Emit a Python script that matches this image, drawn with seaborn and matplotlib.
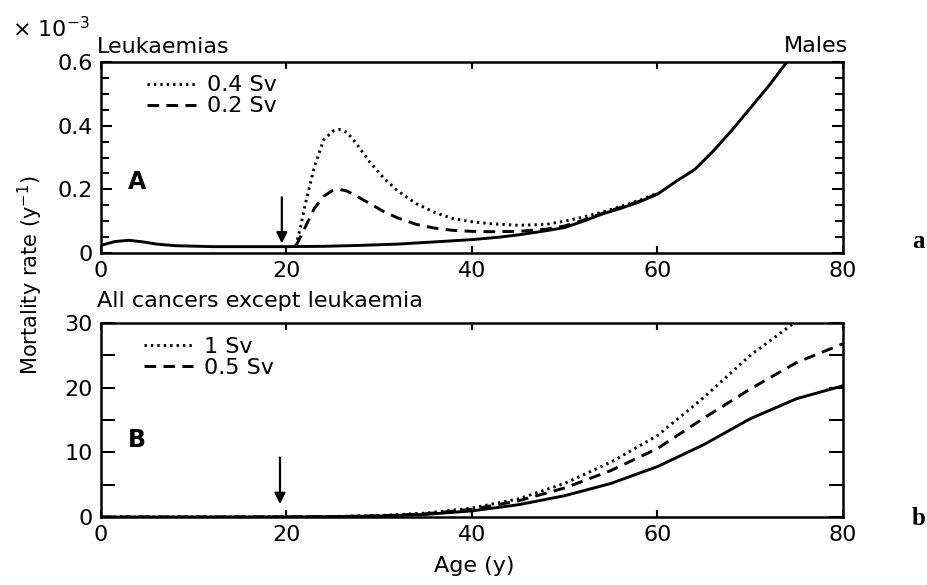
import matplotlib
matplotlib.use("Agg")
import matplotlib.pyplot as plt
import seaborn as sns
from matplotlib.ticker import MultipleLocator, FixedLocator

# ---------------- data ----------------
# Panel A: leukaemia mortality rate (x 10^-3 per year), males
leuk_age = [0, 1.5, 3, 4.5, 6, 8, 12, 16, 20, 24, 28, 32, 36, 40, 43, 45, 48,
            50, 52, 54, 56, 58, 60, 62, 64, 66, 68, 70, 72, 74, 75]
leuk_base = [0.024, 0.036, 0.040, 0.035, 0.028, 0.023, 0.020, 0.020, 0.020,
             0.021, 0.024, 0.028, 0.035, 0.042, 0.050, 0.057, 0.070, 0.080,
             0.100, 0.122, 0.140, 0.160, 0.185, 0.225, 0.262, 0.320, 0.385,
             0.455, 0.525, 0.602, 0.640]

dose_age = [21, 21.5, 22, 23, 24, 25, 25.7, 26.5, 27.5, 29, 30.5, 32, 34, 36,
            38, 40, 42, 45, 48, 50, 52, 54, 56, 58, 60]
leuk_04sv = [0.022, 0.08, 0.15, 0.27, 0.355, 0.383, 0.388, 0.38, 0.345, 0.285,
             0.235, 0.195, 0.155, 0.127, 0.108, 0.098, 0.092, 0.087, 0.090,
             0.100, 0.113, 0.128, 0.146, 0.165, 0.188]
leuk_02sv = [0.022, 0.05, 0.08, 0.14, 0.178, 0.197, 0.200, 0.195, 0.180, 0.155,
             0.130, 0.110, 0.090, 0.078, 0.071, 0.068, 0.067, 0.068, 0.075,
             0.085, 0.103, 0.124, 0.143, 0.162, 0.186]

# Panel B: all cancers except leukaemia (x 10^-3 per year)
all_age = [0, 10, 20, 25, 30, 35, 40, 45, 50, 55, 60, 65, 70, 75, 80]
all_base = [0.0, 0.0, 0.02, 0.06, 0.15, 0.4, 0.95, 1.9, 3.3, 5.2, 7.8, 11.2,
            15.2, 18.3, 20.3]
all_05sv = [0.0, 0.0, 0.02, 0.07, 0.18, 0.5, 1.2, 2.5, 4.5, 7.2, 10.6, 15.3,
            19.8, 23.9, 26.8]
all_1sv_age = [0, 10, 20, 25, 30, 35, 40, 45, 50, 55, 60, 65, 70, 75]
all_1sv = [0.0, 0.0, 0.02, 0.08, 0.22, 0.6, 1.4, 2.8, 5.2, 8.5, 12.6, 18.5,
           25.0, 30.3]

top_labels = ["0.4 Sv", "0.2 Sv"]
bot_labels = ["1 Sv", "0.5 Sv"]
x_ticks = [0, 20, 40, 60, 80]

# ---------------- style ----------------
sns.set_style("ticks")
plt.rcParams['font.family'] = ['DejaVu Sans']
plt.rcParams['mathtext.fontset'] = 'dejavusans'
for k in ('text.color', 'axes.labelcolor', 'xtick.color', 'ytick.color',
          'axes.edgecolor'):
    plt.rcParams[k] = 'black'
FS = 16

DOT = (0, (0.8, 1.4))
DASH = (0, (4, 2.5))
LW = 2.1

fig = plt.figure(figsize=(9.28, 5.85), dpi=100)
ax1 = fig.add_axes([0.1088, 0.5675, 0.7996, 0.3265])
ax2 = fig.add_axes([0.1088, 0.1162, 0.7996, 0.3316])

# ---- panel A ----
sns.lineplot(x=leuk_age, y=leuk_base, ax=ax1, color='black', lw=LW,
             label='_nolegend_')
sns.lineplot(x=dose_age, y=leuk_04sv, ax=ax1, color='black', lw=LW,
             linestyle=DOT, label=top_labels[0])
sns.lineplot(x=dose_age, y=leuk_02sv, ax=ax1, color='black', lw=LW,
             linestyle=DASH, label=top_labels[1])

# ---- panel B ----
sns.lineplot(x=all_age, y=all_base, ax=ax2, color='black', lw=LW,
             label='_nolegend_')
sns.lineplot(x=all_1sv_age, y=all_1sv, ax=ax2, color='black', lw=LW,
             linestyle=DOT, label=bot_labels[0])
sns.lineplot(x=all_age, y=all_05sv, ax=ax2, color='black', lw=LW,
             linestyle=DASH, label=bot_labels[1])

for ax in (ax1, ax2):
    ax.set_xlim(0, 80)
    ax.set_xticks(x_ticks)
    ax.set_xticklabels([str(t) for t in x_ticks])
    ax.set_xlabel('')
    ax.set_ylabel('')
    for s in ax.spines.values():
        s.set_visible(True)
        s.set_linewidth(1.8)
        s.set_color('black')
    ax.tick_params(axis='x', which='major', direction='in', top=True,
                   bottom=True, length=5, width=1.5, labelsize=FS, pad=6,
                   colors='black')
    ax.tick_params(axis='y', which='both', direction='in', left=True,
                   right=True, width=1.5, labelsize=FS, pad=6, colors='black')
    h, l = ax.get_legend_handles_labels()
    keep = [(hh, ll) for hh, ll in zip(h, l) if not ll.startswith('_')]
    ax.legend([k[0] for k in keep], [k[1] for k in keep], loc='upper left',
              frameon=False, fontsize=FS, handlelength=2.2,
              handletextpad=0.5, labelspacing=0.05, borderpad=0,
              borderaxespad=0,
              bbox_to_anchor=(0.062, 0.93) if ax is ax1 else (0.058, 0.93))

ax1.set_ylim(0, 0.6)
ax1.yaxis.set_major_locator(FixedLocator([0, 0.2, 0.4, 0.6]))
ax1.set_yticklabels(['0', '0.2', '0.4', '0.6'])
ax1.yaxis.set_minor_locator(MultipleLocator(0.05))
ax1.tick_params(axis='y', which='major', length=8)
ax1.tick_params(axis='y', which='minor', length=6)

ax2.set_ylim(0, 30)
ax2.yaxis.set_major_locator(FixedLocator([0, 10, 20, 30]))
ax2.set_yticklabels(['0', '10', '20', '30'])
ax2.yaxis.set_minor_locator(MultipleLocator(5))
ax2.tick_params(axis='y', which='both', length=10)

# arrows marking exposure at age 20
ax1.annotate('', xy=(19.5, 0.03), xytext=(19.5, 0.175),
             arrowprops=dict(arrowstyle='-|>', color='black', lw=1.6,
                             mutation_scale=16, shrinkA=0, shrinkB=0))
ax2.annotate('', xy=(19.3, 2.0), xytext=(19.3, 9.2),
             arrowprops=dict(arrowstyle='-|>', color='black', lw=1.6,
                             mutation_scale=16, shrinkA=0, shrinkB=0))

# panel letters
ax1.text(3.9, 0.223, 'A', fontsize=FS + 1, fontweight='bold', ha='center',
         va='center')
ax2.text(3.9, 11.9, 'B', fontsize=FS + 1, fontweight='bold', ha='center',
         va='center')

# figure texts
W, H = 928.0, 585.0
fig.text(12 / W, 1 - 37 / H, '× 10$^{-3}$', fontsize=FS, va='baseline')
fig.text(97 / W, 1 - 53 / H, 'Leukaemias', fontsize=FS, va='baseline')
fig.text(848 / W, 1 - 52 / H, 'Males', fontsize=FS, va='baseline', ha='right')
fig.text(97 / W, 1 - 307 / H, 'All cancers except leukaemia', fontsize=FS,
         va='baseline')
fig.text(474 / W, 1 - 566 / H, 'Age (y)', fontsize=FS, ha='center',
         va='center')
fig.text(30 / W, 1 - 275 / H, 'Mortality rate (y$^{-1}$)', fontsize=15,
         ha='center', va='center', rotation=90)
fig.text(912 / W, 1 - 248 / H, 'a', fontsize=18, fontweight='bold',
         family=['Liberation Serif', 'DejaVu Serif'], va='baseline')
fig.text(912 / W, 1 - 525 / H, 'b', fontsize=18, fontweight='bold',
         family=['Liberation Serif', 'DejaVu Serif'], va='baseline')

fig.savefig('out.png', dpi=100)
